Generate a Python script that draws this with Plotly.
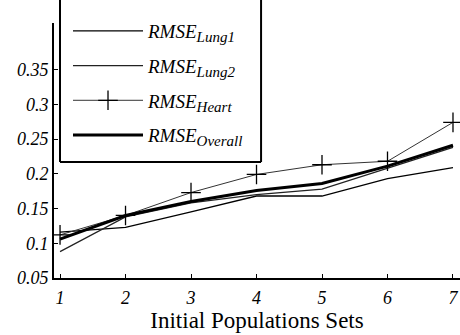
import plotly.graph_objects as go

x_sets = [1, 2, 3, 4, 5, 6, 7]
rmse_lung1 = [0.116, 0.123, 0.145, 0.168, 0.168, 0.193, 0.209]
rmse_lung2 = [0.088, 0.138, 0.158, 0.170, 0.178, 0.208, 0.238]
rmse_heart = [0.112, 0.140, 0.173, 0.199, 0.213, 0.218, 0.274]
rmse_overall = [0.106, 0.140, 0.160, 0.176, 0.186, 0.211, 0.241]
y_ticks = [0.05, 0.1, 0.15, 0.2, 0.25, 0.3, 0.35]
y_tick_text = ["0.05", "0.1", "0.15", "0.2", "0.25", "0.3", "0.35"]
series_subs = ["Lung1", "Lung2", "Heart", "Overall"]

SERIF = "Liberation Serif, Times New Roman, serif"


def label(sub):
    return f"<i>RMSE<sub><span style='font-size:15px'>{sub}</span></sub></i>"


fig = go.Figure()
fig.add_trace(go.Scatter(x=x_sets, y=rmse_lung1, mode="lines", name=label(series_subs[0]),
                         line=dict(color="black", width=1.3), legendgroup="a"))
fig.add_trace(go.Scatter(x=x_sets, y=rmse_lung2, mode="lines", name=label(series_subs[1]),
                         line=dict(color="#222", width=1.2), legendgroup="b"))
fig.add_trace(go.Scatter(x=x_sets, y=rmse_heart, mode="lines+markers", name=label(series_subs[2]),
                         line=dict(color="#333", width=1),
                         marker=dict(symbol="cross-thin", size=14, line=dict(color="black", width=1.3)),
                         legendgroup="c"))
fig.add_trace(go.Scatter(x=x_sets, y=rmse_overall, mode="lines", name=label(series_subs[3]),
                         line=dict(color="black", width=3), legendgroup="d"))

fig.update_layout(
    width=460, height=335,
    margin=dict(l=54, r=0, t=23, b=57),
    paper_bgcolor="white", plot_bgcolor="white",
    font=dict(family=SERIF, color="black"),
    showlegend=True,
    legend=dict(x=0.0345, y=1.043, xanchor="left", yanchor="top",
                bgcolor="rgba(0,0,0,0)", borderwidth=0,
                font=dict(family=SERIF, size=19, color="black"),
                itemwidth=70, tracegroupgap=7),
    xaxis=dict(range=[0.908, 7.107], tickvals=x_sets, ticktext=[f"<i>{v}</i>" for v in x_sets],
               showgrid=False, zeroline=False, showline=True, linecolor="black", linewidth=2,
               ticks="inside", ticklen=4, tickcolor="black", ticklabelstandoff=2,
               tickfont=dict(family=SERIF, size=18),
               title=dict(text="Initial Populations Sets", font=dict(family=SERIF, size=23), standoff=5)),
    yaxis=dict(range=[0.05, 0.417], tickvals=y_ticks, ticktext=[f"<i>{t}</i>" for t in y_tick_text],
               showgrid=False, zeroline=False, showline=True, linecolor="black", linewidth=2,
               ticks="inside", ticklen=4, tickcolor="black",
               tickfont=dict(family=SERIF, size=18)),
)

# legend frame (top edge lies above the visible area)
for sx0, sy0, sx1, sy1 in [(0.0148, 0.455, 0.0148, 1.2), (0.0148, 0.455, 0.51, 0.455), (0.51, 0.455, 0.51, 1.2)]:
    fig.add_shape(type="line", xref="paper", yref="paper", x0=sx0, y0=sy0, x1=sx1, y1=sy1,
                  line=dict(color="black", width=2), layer="above")

fig.write_html("out.html")
